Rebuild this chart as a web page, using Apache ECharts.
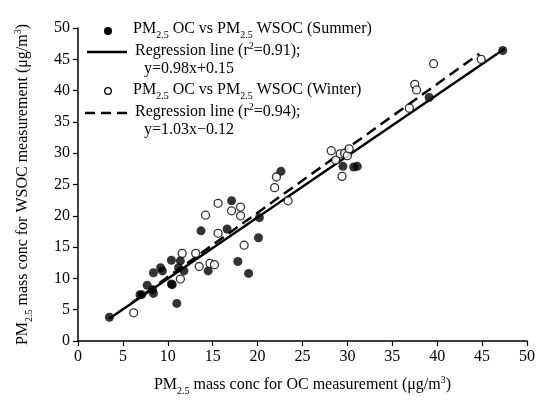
<!DOCTYPE html>
<html>
<head>
<meta charset="utf-8">
<script src="https://cdn.jsdelivr.net/npm/echarts@6/dist/echarts.min.js"></script>
<style>
    html, body { margin: 0; padding: 0; background: #fff; }
    #main { width: 549px; height: 405px; }
</style>
</head>
<body>
<div id="main"></div>
<script>
// axis ticks (both axes)
var axisTicks = [0, 5, 10, 15, 20, 25, 30, 35, 40, 45, 50];

// summer samples [OC, WSOC]
var summerData = [
    [3.5, 3.8], [6.9, 7.4], [7.1, 7.4], [7.7, 8.9], [8.4, 7.6], [8.3, 8.2], [8.4, 10.9], [9.2, 11.7],
    [9.4, 11.2], [10.4, 9.1], [10.4, 12.9], [10.5, 9.0], [11.0, 6.0], [11.2, 11.7], [11.4, 12.8],
    [11.8, 11.2], [13.7, 17.6], [14.5, 11.2], [16.6, 17.9], [17.1, 22.4], [17.8, 12.7], [19.0, 10.8],
    [20.1, 16.5], [20.2, 19.7], [22.6, 27.1], [29.5, 27.9], [30.7, 27.8], [31.1, 27.9], [39.1, 38.9],
    [47.3, 46.4]
];

// winter samples [OC, WSOC]
var winterData = [
    [6.2, 4.5], [11.4, 9.9], [11.6, 14.0], [13.1, 14.0], [13.5, 11.9], [14.2, 20.1], [14.7, 12.4],
    [15.2, 12.2], [15.6, 22.0], [15.6, 17.2], [17.1, 20.8], [18.1, 21.4], [18.1, 20.0], [18.5, 15.3],
    [21.9, 24.5], [22.1, 26.2], [23.4, 22.4], [28.2, 30.4], [28.7, 28.9], [29.2, 29.9], [29.7, 30.0],
    [30.0, 29.6], [30.2, 30.7], [29.4, 26.3], [36.9, 37.2], [37.5, 41.0], [37.7, 40.1], [39.6, 44.3],
    [44.9, 45.0]
];

// regression line end points
var summerFit = [[3.5, 3.6], [47.5, 46.7]];
var winterFit = [[6.0, 6.1], [44.7, 45.9]];

var serif = '"Liberation Serif", "DejaVu Serif", serif';
var rich = {
    sub: { fontFamily: serif, fontSize: 10, verticalAlign: 'bottom', lineHeight: 12, padding: [0, 0, -3, 0] },
    sup: { fontFamily: serif, fontSize: 10, verticalAlign: 'top', lineHeight: 12, padding: [-2, 0, 0, 0] }
};

function legendText(x, y, text) {
    return {
        type: 'text', x: x, y: y,
        style: {
            text: text, fontFamily: serif, fontSize: 16, fill: '#000',
            verticalAlign: 'middle', rich: rich
        }
    };
}

var chart = echarts.init(document.getElementById('main'));

var option = {
    animation: false,
    grid: { left: 78, right: 22, top: 28, bottom: 64 },
    xAxis: {
        type: 'value',
        min: axisTicks[0], max: axisTicks[axisTicks.length - 1], interval: 5,
        splitLine: { show: false },
        axisLine: { onZero: false, lineStyle: { color: '#000', width: 1.5 } },
        axisTick: { length: 5, lineStyle: { color: '#000', width: 1.2 } },
        axisLabel: { color: '#000', fontFamily: serif, fontSize: 16, margin: 8 },
        name: 'PM{sub|2.5} mass conc for OC measurement (μg/m{sup|3})',
        nameLocation: 'middle', nameGap: 36,
        nameTextStyle: { color: '#000', fontFamily: serif, fontSize: 16, rich: rich }
    },
    yAxis: {
        type: 'value',
        min: axisTicks[0], max: axisTicks[axisTicks.length - 1], interval: 5,
        splitLine: { show: false },
        axisLine: { onZero: false, lineStyle: { color: '#000', width: 1.5 } },
        axisTick: { length: 5, lineStyle: { color: '#000', width: 1.2 } },
        axisLabel: { color: '#000', fontFamily: serif, fontSize: 16, margin: 8 },
        name: 'PM{sub|2.5} mass conc for WSOC measurement (μg/m{sup|3})',
        nameLocation: 'middle', nameGap: 47, nameRotate: 90,
        nameTextStyle: { color: '#000', fontFamily: serif, fontSize: 16, rich: rich }
    },
    series: [
        {
            type: 'line', data: summerFit, symbol: 'none', z: 2,
            lineStyle: { color: '#000', width: 2.5 }
        },
        {
            type: 'line', data: winterFit, symbol: 'none', z: 2,
            lineStyle: { color: '#000', width: 2.5, type: [11, 6] }
        },
        {
            type: 'scatter', data: summerData, symbolSize: 9, z: 3,
            itemStyle: { color: '#000' }
        },
        {
            type: 'scatter', data: winterData, symbolSize: 8, z: 4,
            itemStyle: { color: '#fff', borderColor: '#000', borderWidth: 1.3 }
        }
    ],
    // legend drawn by hand (multi-line entries)
    graphic: [
        { type: 'circle', shape: { cx: 108, cy: 31, r: 4 }, style: { fill: '#000' } },
        legendText(133, 29, 'PM{sub|2.5} OC vs PM{sub|2.5} WSOC (Summer)'),
        { type: 'line', shape: { x1: 87, y1: 52, x2: 127, y2: 52 }, style: { stroke: '#000', lineWidth: 2.5 } },
        legendText(135, 51, 'Regression line (r{sup|2}=0.91);'),
        legendText(144, 69, 'y=0.98x+0.15'),
        { type: 'circle', shape: { cx: 108, cy: 91, r: 3.3 }, style: { fill: '#fff', stroke: '#000', lineWidth: 1.3 } },
        legendText(133, 90, 'PM{sub|2.5} OC vs PM{sub|2.5} WSOC (Winter)'),
        { type: 'line', shape: { x1: 85, y1: 113, x2: 127, y2: 113 }, style: { stroke: '#000', lineWidth: 2.5, lineDash: [10, 6] } },
        legendText(135, 112, 'Regression line (r{sup|2}=0.94);'),
        legendText(144, 130, 'y=1.03x−0.12')
    ]
};

chart.setOption(option);
</script>
</body>
</html>
